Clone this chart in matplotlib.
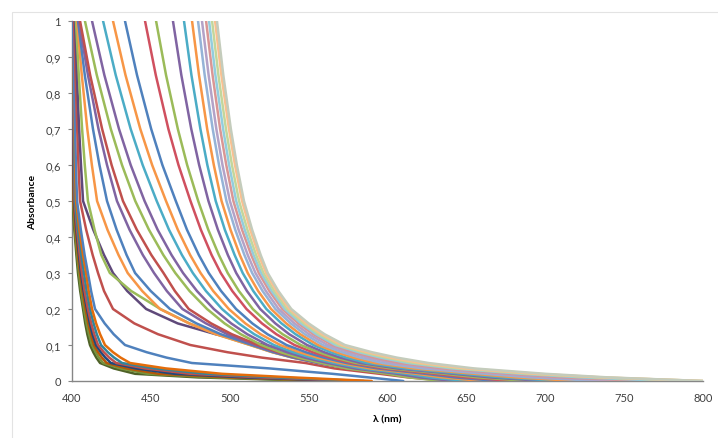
import matplotlib.pyplot as plt
import matplotlib.patches as patches

plt.rcParams['font.family'] = ['Lato', 'DejaVu Sans']

# absorbance levels; every series lists the wavelength (nm) at which it reaches them
levels = [1.0, 0.85, 0.7, 0.6, 0.5, 0.42, 0.35, 0.3, 0.25, 0.2,
          0.16, 0.13, 0.1, 0.08, 0.065, 0.05, 0.035, 0.02, 0.01, 0.0]

# steep curves hugging 400 nm
s01 = [400, 400.07, 400.15, 400.22, 400.3, 401.5, 402.8, 403.8, 405.2, 407, 408.4, 409.7, 411.4, 413.5, 415.4, 417.8, 426.4, 440, 480, 560]
s02 = [400, 400.14, 400.31, 400.44, 400.6, 401.9, 403.3, 404.4, 405.8, 407.6, 409.2, 410.8, 412.7, 415, 417, 419.7, 430.7, 448, 490, 565]
s03 = [400.3, 400.44, 400.61, 400.74, 400.9, 402.3, 403.8, 405.1, 406.7, 408.6, 410.3, 411.9, 413.9, 416.5, 418.9, 422, 434.8, 455, 500, 570]
s04 = [400.3, 400.53, 400.8, 401.04, 401.3, 402.8, 404.4, 405.7, 407.4, 409.5, 411.3, 413, 415.2, 418.3, 421.1, 424.7, 440.4, 465, 510, 575]
s05 = [400.3, 400.6, 400.97, 401.26, 401.6, 403.2, 404.9, 406.3, 408, 410.1, 412.2, 414.1, 416.5, 420.2, 423.6, 428, 446.3, 475, 520, 580]
s06 = [400.6, 400.9, 401.27, 401.56, 401.9, 403.8, 405.9, 407.6, 409.3, 411.4, 413.7, 415.7, 418.4, 422.7, 426.7, 431.7, 452.4, 485, 530, 585]
s07 = [400.6, 401.05, 401.58, 402, 402.5, 404.7, 407, 408.9, 410.6, 412.7, 415.3, 417.8, 420.9, 426, 430.8, 436.8, 459.4, 495, 540, 590]
s08 = [400.6, 401.2, 401.9, 402.5, 403.2, 405.6, 408, 410.1, 412.1, 414.6, 420.7, 426.4, 433.6, 447.3, 459.9, 476, 525, 565, 588, 610]

# curves leaving the 400 nm bundle with a knee
s09 = [401.3, 402.2, 403.3, 404.1, 405.1, 409, 413.1, 416.5, 420.3, 426, 439.5, 454.5, 475, 498.5, 520.3, 548, 566.3, 595, 613, 640]
s10 = [401.9, 403.1, 404.5, 405.7, 407, 413.5, 420.3, 426, 435, 447, 467, 491, 522, 540.7, 558, 580, 595.6, 620, 638, 665]
s11 = [402.5, 404.3, 406.4, 408.1, 410.1, 414.3, 418.6, 424, 437.5, 456, 474.5, 491.5, 513, 527.2, 540.3, 557, 576.8, 608, 626.8, 655]
s12 = [403.2, 406.2, 409.7, 412.6, 415.9, 422.5, 429.5, 435.3, 444.5, 455.8, 474.2, 491.2, 512.9, 526.8, 539.7, 556, 575, 604.8, 621.3, 646]
s13 = [403.8, 408.1, 413.3, 417.4, 422.2, 428.3, 434.6, 440, 449.9, 462.1, 478.9, 494.3, 514.1, 527.6, 540.1, 556, 575, 604.8, 623.8, 652.3]
s14 = [404.4, 410.1, 416.8, 422.2, 428.5, 436.5, 444.9, 452, 460.1, 470, 484.9, 498.5, 516, 529.3, 541.6, 557.2, 576.4, 606.7, 627.5, 658.7]
s15 = [405.1, 411.5, 419.1, 425.1, 432.3, 441.1, 450.3, 458, 465.2, 474, 488.2, 501.3, 518, 531, 543.2, 558.5, 577.7, 607.9, 628.2, 658.7]

# fan of curves leaving the top edge further right
s16 = [408.2, 415.7, 424.6, 431.7, 440.1, 448.8, 457.9, 465.5, 474.5, 485.6, 496.7, 507, 520, 532.2, 543.6, 558, 574.3, 600, 614, 635]
s17 = [412.7, 420.5, 429.8, 437.2, 446, 454.3, 463.1, 470.4, 479.2, 489.9, 500.9, 511.1, 524, 536.2, 547.6, 562, 579.1, 606, 620.4, 642]
s18 = [419.7, 427.7, 437.2, 444.8, 453.7, 461.5, 469.7, 476.6, 484.9, 495.1, 505.7, 515.5, 528, 540.2, 551.6, 566, 583.9, 612, 627.2, 650]
s19 = [426, 433.9, 443.3, 450.8, 459.6, 467.1, 474.9, 481.5, 489.5, 499.4, 509.9, 519.6, 532, 544.2, 555.6, 570, 588.7, 618, 634.8, 660]
s20 = [433.6, 441.2, 450.2, 457.3, 465.8, 472.9, 480.4, 486.7, 494.5, 504, 514.3, 523.9, 536, 548.2, 559.6, 574, 593.5, 624, 642.4, 670]
s21 = [446.3, 453.1, 461.1, 467.5, 475.1, 481.7, 488.5, 494.3, 501.6, 510.6, 520.4, 529.5, 541, 552.6, 563.4, 577, 597.6, 630, 650, 680]
s22 = [453.3, 459.6, 467.1, 473, 480, 486.4, 493.1, 498.7, 505.8, 514.6, 524.4, 533.5, 545, 556.3, 566.7, 580, 601.8, 636, 657.6, 690]
s23 = [464, 469.3, 475.6, 480.6, 486.5, 492.5, 498.8, 504.1, 510.9, 519.3, 528.9, 537.7, 549, 559.9, 570.1, 583, 606, 642, 665.2, 700]
s24 = [471, 475.7, 481.4, 485.8, 491.1, 496.9, 503.1, 508.2, 514.9, 523.2, 532.8, 541.7, 553, 563.9, 574.1, 587, 610.7, 648, 672.8, 710]
s25 = [476.1, 480.5, 485.7, 489.9, 494.8, 500.5, 506.4, 511.4, 518, 526.2, 535.8, 544.7, 556, 567.6, 578.4, 592, 616.5, 655, 681, 720]
s26 = [479.9, 484.1, 489.2, 493.2, 497.9, 503.5, 509.3, 514.2, 520.8, 528.9, 538.6, 547.6, 559, 571.2, 582.6, 597, 622.3, 662, 691.2, 735]
s27 = [482.4, 486.6, 491.5, 495.4, 500.1, 505.6, 511.4, 516.3, 522.9, 531, 541, 550.3, 562, 575.2, 587.5, 603, 629.1, 670, 702, 750]
s28 = [485, 489.1, 493.9, 497.8, 502.3, 507.8, 513.6, 518.4, 525.1, 533.3, 543.5, 553, 565, 578.8, 591.7, 608, 635.2, 678, 712.8, 765]
s29 = [486.9, 490.9, 495.8, 499.6, 504.1, 509.5, 515.1, 519.9, 526.6, 534.8, 545.2, 554.8, 567, 581.8, 595.6, 613, 641, 685, 723, 780]
s30 = [488.8, 492.8, 497.6, 501.4, 505.9, 511.2, 516.7, 521.4, 528.1, 536.3, 546.9, 556.6, 569, 584.5, 598.8, 617, 645.4, 690, 734, 800]
s31 = [490.7, 494.7, 499.5, 503.3, 507.8, 513, 518.4, 523, 529.6, 537.8, 548.5, 558.4, 571, 587.1, 602.1, 621, 649.4, 694, 736.4, 800]
s32 = [491.9, 495.9, 500.7, 504.5, 509, 514.2, 519.6, 524.1, 530.8, 539, 550, 560.1, 573, 590.1, 605.9, 626, 654.8, 700, 740, 800]

series = [s01, s02, s03, s04, s05, s06, s07, s08,
          s09, s10, s11, s12, s13, s14, s15,
          s16, s17, s18, s19, s20, s21, s22, s23, s24, s25,
          s26, s27, s28, s29, s30, s31, s32]
colors = ['#4F6228', '#77933C', '#B65708', '#1F497D', '#C0504D', '#31859C', '#E46C0A', '#4F81BD',
          '#C0504D', '#5F497A', '#9BBB59', '#F79646', '#4F81BD', '#8064A2', '#C0504D',
          '#9BBB59', '#8064A2', '#4BACC6', '#F79646', '#4F81BD', '#D0505F', '#9BBB59', '#8064A2',
          '#4BACC6', '#F79646',
          '#95B3D7', '#B3A2C7', '#D99694', '#93CDDD', '#C3D69B', '#FAC090', '#C4CCBC']

x_ticks = [400, 450, 500, 550, 600, 650, 700, 750, 800]
y_ticks = [0, 0.1, 0.2, 0.3, 0.4, 0.5, 0.6, 0.7, 0.8, 0.9, 1]
y_labels = ['0', '0,1', '0,2', '0,3', '0,4', '0,5', '0,6', '0,7', '0,8', '0,9', '1']

fig = plt.figure(figsize=(7.18, 4.39), dpi=100)
fig.patches.append(patches.Rectangle((12 / 718, -0.01), 0.99, 1 - 13 / 439 + 0.01,
                                     transform=fig.transFigure, fill=False,
                                     edgecolor='#E3E3E3', linewidth=0.8))
ax = fig.add_axes([72 / 718, 1 - 382 / 439, (703 - 72) / 718, 360 / 439])

for s, c in zip(series, colors):
    ax.plot(s, levels, color=c, linewidth=1.8, solid_joinstyle='round', solid_capstyle='round')

ax.set_xlim(400, 800)
ax.set_ylim(0, 1)
ax.set_xticks(x_ticks)
ax.set_yticks(y_ticks)
ax.set_yticklabels(y_labels)
for side in ['top', 'right']:
    ax.spines[side].set_visible(False)
for side in ['left', 'bottom']:
    ax.spines[side].set_color('#868686')
    ax.spines[side].set_linewidth(1.0)
    ax.spines[side].set_zorder(0.5)
ax.tick_params(axis='both', length=3, color='#868686', labelsize=8, labelcolor='#404040', pad=5)
ax.tick_params(axis='x', length=0, pad=8)
ax.set_ylabel('Absorbance', fontsize=7.5, fontweight='bold', labelpad=6)
ax.set_xlabel('λ (nm)', fontsize=7.5, fontweight='bold', labelpad=8)

fig.savefig('out.png', dpi=100)
